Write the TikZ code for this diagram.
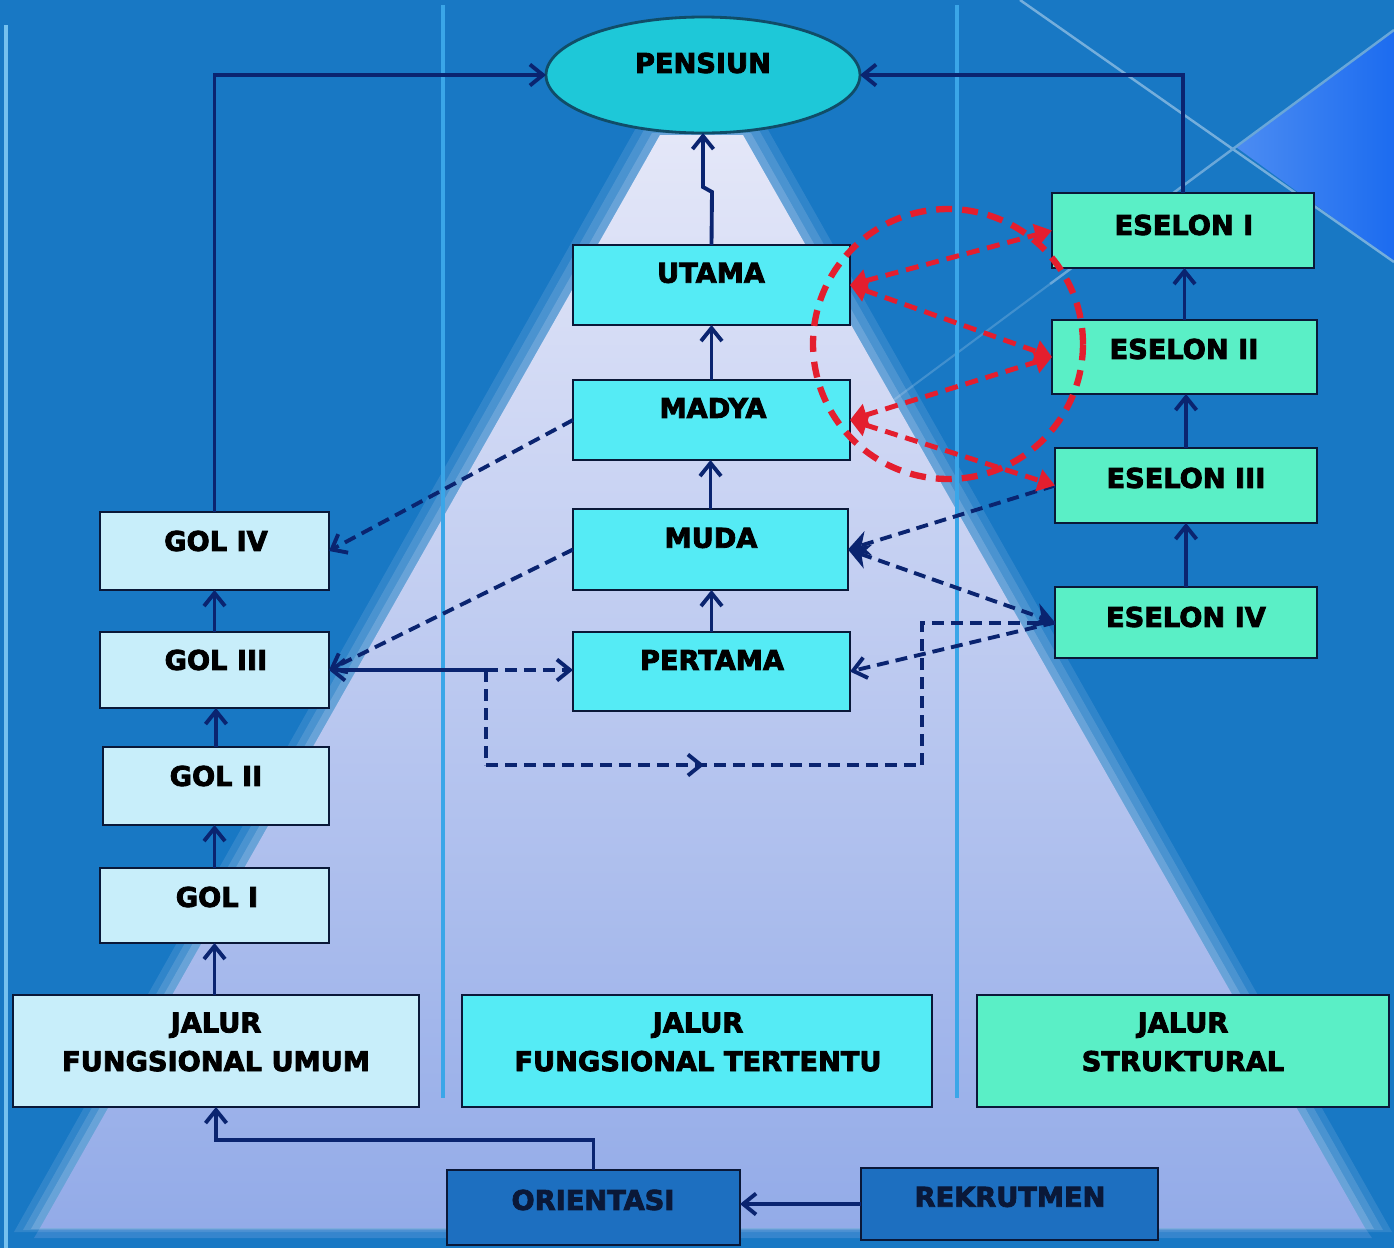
\documentclass[tikz,border=0pt]{standalone}
\usepackage{fontspec}
\setmainfont{DejaVu Sans}[BoldFeatures={FakeBold=3}]
\usetikzlibrary{arrows.meta,shapes.geometric,calc,decorations.markings}
\definecolor{bgblue}{HTML}{1878C4}
\definecolor{navy}{HTML}{0A2470}
\definecolor{bordc}{HTML}{0A1838}
\definecolor{cyanbox}{HTML}{55EBF5}
\definecolor{mintbox}{HTML}{5AEFC6}
\definecolor{golbox}{HTML}{C8EEFA}
\definecolor{pensc}{HTML}{1EC8D8}
\definecolor{orbox}{HTML}{1D6FC0}
\definecolor{redc}{HTML}{E41E2E}
\definecolor{vline}{HTML}{3AA6E8}
\definecolor{pyrtop}{HTML}{E4E7F8}
\definecolor{pyrbot}{HTML}{93ABE8}
\definecolor{brightl}{HTML}{4C8CF2}
\definecolor{brightr}{HTML}{1C6CF0}
\newdimen\pxu \pxu=0.02cm
\tikzset{
  box/.style={draw=bordc, line width=1.6pt, inner sep=0pt, outer sep=0pt},
  lbl/.style={font=\bfseries\fontsize{15.5}{22}\selectfont, text=black, inner sep=0pt, align=center},
  sol/.style={draw=navy, line width=2.2pt},
  dsh/.style={draw=navy, line width=2.2pt, dash pattern=on 2.4mm off 1.4mm},
  barb/.tip={Straight Barb[length=2.6mm,width=4.2mm,line width=2.2pt]},
  heavy/.tip={Stealth[length=4.2mm,width=5mm]},
  rtip/.tip={Triangle[length=3.4mm,width=4.4mm]},
  red/.style={draw=redc, line width=2.8pt, dash pattern=on 2.6mm off 1.6mm, rtip-rtip},
  midbarb/.style={postaction={decorate}, decoration={markings, mark=at position 0.5 with {\arrow{barb}}}}
}
\begin{document}
\begin{tikzpicture}[x=0.02cm,y=-0.02cm]
% background
\fill[bgblue] (0,0) rectangle (1394,1248);
\useasboundingbox (0,0) rectangle (1394,1248);
\shade[left color=brightl, right color=brightr] (1236,147) -- (1394,30) -- (1394,262) -- cycle;
\draw[white!40!bgblue, line width=1.4pt] (1020,0) -- (1394,262);
\draw[white!35!bgblue, line width=1.4pt] (1394,30) -- (1050,284);
\draw[white!30!bgblue, line width=1.2pt, opacity=0.6] (1050,284) -- (840,440);
% pyramid with soft edges
\fill[pyrbot!50!bgblue, opacity=0.5] (40,1228) -- (1365,1228) -- (1372,1238) -- (34,1238) -- cycle;
\fill[pyrtop, opacity=0.12] (636,128) -- (767,128) -- (1392,1232) -- (14,1232) -- cycle;
\fill[pyrtop, opacity=0.15] (644,130) -- (759,130) -- (1383,1230) -- (23,1230) -- cycle;
\fill[pyrtop, opacity=0.2] (652,133) -- (751,133) -- (1374,1229) -- (31,1229) -- cycle;
\shade[top color=pyrtop, bottom color=pyrbot] (660,135) -- (743,135) -- (1365,1228) -- (40,1228) -- cycle;
% vertical lines
\draw[vline!70!white, line width=2.4pt] (6,25) -- (6,1248);
\draw[vline, line width=2.4pt] (443,5) -- (443,1098);
\draw[vline, line width=2.4pt] (957,5) -- (957,1098);

% nodes
\node[box, ellipse, fill=pensc, draw=bordc!70!pensc, minimum width=314\pxu, minimum height=116\pxu] (pensiun) at (703,75) {};
\node[lbl] (pensiunT) at (703,63) {PENSIUN};

\node[box, fill=cyanbox, minimum width=277\pxu, minimum height=80\pxu] (utama) at (711.5,285) {};
\node[box, fill=cyanbox, minimum width=277\pxu, minimum height=80\pxu] (madya) at (711.5,420) {};
\node[box, fill=cyanbox, minimum width=275\pxu, minimum height=81\pxu] (muda) at (710.5,549.5) {};
\node[box, fill=cyanbox, minimum width=277\pxu, minimum height=79\pxu] (pertama) at (711.5,671.5) {};
\node[lbl] (utamaT) at (711,273) {UTAMA};
\node[lbl] (madyaT) at (713,408) {MADYA};
\node[lbl] (mudaT) at (711,538) {MUDA};
\node[lbl] (pertamaT) at (712,660) {PERTAMA};

\node[box, fill=mintbox, minimum width=262\pxu, minimum height=75\pxu] (esl1) at (1183,230.5) {};
\node[box, fill=mintbox, minimum width=265\pxu, minimum height=74\pxu] (esl2) at (1184.5,357) {};
\node[box, fill=mintbox, minimum width=262\pxu, minimum height=75\pxu] (esl3) at (1186,485.5) {};
\node[box, fill=mintbox, minimum width=262\pxu, minimum height=71\pxu] (esl4) at (1186,622.5) {};
\node[lbl] (esl1T) at (1184,225) {ESELON I};
\node[lbl] (esl2T) at (1184,349) {ESELON II};
\node[lbl] (esl3T) at (1186,478) {ESELON III};
\node[lbl] (esl4T) at (1186,617) {ESELON IV};

\node[box, fill=golbox, minimum width=229\pxu, minimum height=78\pxu] (gol4) at (214.5,551) {};
\node[box, fill=golbox, minimum width=229\pxu, minimum height=76\pxu] (gol3) at (214.5,670) {};
\node[box, fill=golbox, minimum width=226\pxu, minimum height=78\pxu] (gol2) at (216,786) {};
\node[box, fill=golbox, minimum width=229\pxu, minimum height=75\pxu] (gol1) at (214.5,905.5) {};
\node[lbl] (gol4T) at (216,541) {GOL IV};
\node[lbl] (gol3T) at (216,660) {GOL III};
\node[lbl] (gol2T) at (216,776) {GOL II};
\node[lbl] (gol1T) at (217,897) {GOL I};

\node[box, fill=golbox, minimum width=406\pxu, minimum height=112\pxu] (jfu) at (216,1051) {};
\node[box, fill=cyanbox, minimum width=470\pxu, minimum height=112\pxu] (jft) at (697,1051) {};
\node[box, fill=mintbox, minimum width=412\pxu, minimum height=112\pxu] (js) at (1183,1051) {};
\node[lbl] (jfuT) at (216,1042) {JALUR\\FUNGSIONAL UMUM};
\node[lbl] (jftT) at (698,1042) {JALUR\\FUNGSIONAL TERTENTU};
\node[lbl] (jsT) at (1183,1042) {JALUR\\STRUKTURAL};

\node[box, fill=orbox, minimum width=293\pxu, minimum height=75\pxu] (orient) at (593.5,1207.5) {};
\node[box, fill=orbox, minimum width=297\pxu, minimum height=72\pxu] (rekrut) at (1009.5,1204) {};
\node[lbl, text=bordc] (orientT) at (593,1200) {ORIENTASI};
\node[lbl, text=bordc] (rekrutT) at (1010,1197) {REKRUTMEN};

% solid connectors
\draw[sol,-barb] (gol1.north) -- (gol1.north |- gol2.south);
\draw[sol,-barb] (gol2.north) -- (gol2.north |- gol3.south);
\draw[sol,-barb] (gol3.north) -- (gol4.south);
\draw[sol,-barb] (gol1.south |- jfu.north) -- (gol1.south);
\draw[sol,-barb] (gol4.north) |- (pensiun.west);
\draw[sol,-barb] (esl1.north) |- (pensiun.east);
\draw[sol,-barb] (esl4.north) -- (esl4.north |- esl3.south);
\draw[sol,-barb] (esl3.north) -- (esl3.north |- esl2.south);
\draw[sol,-barb] (esl2.north) -- (esl2.north |- esl1.south);
\draw[sol,-barb] (pertama.north) -- (pertama.north |- muda.south);
\draw[sol,-barb] (muda.north) -- (muda.north |- madya.south);
\draw[sol,-barb] (madya.north) -- (utama.south);
\coordinate (u1) at (712,192);
\coordinate (u2) at (703,187);
\draw[sol,-barb] (utama.north) -- (u1) -- (u2) -- (pensiun.south);
\draw[sol,-barb] (orient.north) -- ++(0,-30) -| (jfu.south);
\draw[sol,-barb] (rekrut.west) -- (rekrut.west -| orient.east);

% dashed navy connectors
\draw[dsh,-barb] (madya.west) -- (gol4.east);
\draw[dsh,-barb] (muda.west) -- (gol3.east);
\coordinate (j1) at (486,670);
\coordinate (c2) at (486,765);
\coordinate (c3) at (922,765);
\coordinate (c4) at (922,623);
\draw[sol,barb-] (gol3.east) -- (j1);
\draw[dsh,-barb] (j1) -- (j1 -| pertama.west);
\draw[dsh] (j1) -- (c2);
\draw[dsh,midbarb] (c2) -- (c3);
\draw[dsh] (c3) -- (c4) -- (c4 -| esl4.west);
\draw[dsh,-barb] (esl4.west) -- (pertama.east);
\draw[dsh,-heavy] (esl3.west) -- (muda.east);
\draw[dsh,heavy-heavy] (muda.east) -- (esl4.west);

% red connectors
\draw[red] (utama.east) -- (esl1.west);
\draw[red] (utama.east) -- (esl2.west);
\draw[red] (madya.east) -- (esl2.west);
\draw[red] (madya.east) -- (esl3.west);
\draw[draw=redc, line width=3.6pt, dash pattern=on 3.2mm off 2mm] (948,344) circle [radius=2.7cm];
\end{tikzpicture}
\end{document}
